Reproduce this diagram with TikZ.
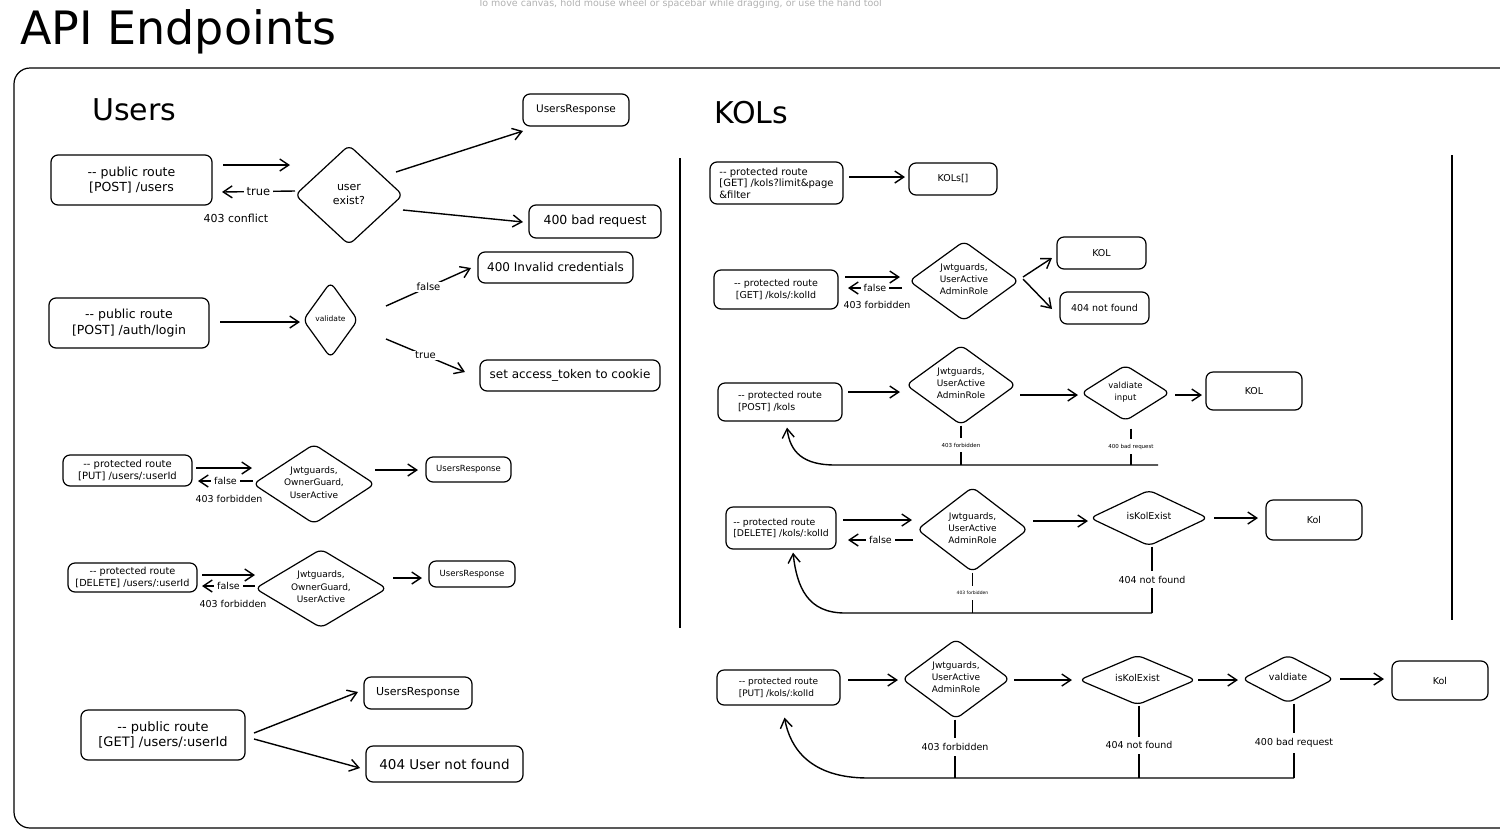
\documentclass[tikz,border=0pt]{standalone}
\usepackage{fontspec}
\setmainfont{DejaVu Sans}
\usetikzlibrary{shapes.geometric,arrows.meta,calc}
\newcommand\fsz[2]{\fontsize{#1}{#2}\selectfont}
\newcommand\dtext[1]{\raisebox{-0.36em}{\makebox[0pt]{\smash{\begin{tabular}{@{}c@{}}#1\end{tabular}}}}}
\tikzset{
  box/.style={draw, rounded corners=7pt, line width=1.2pt, inner sep=0pt, align=center},
  lbox/.style={draw, rounded corners=7pt, line width=1.2pt, inner sep=0pt, align=left},
  dia/.style={draw, diamond, rounded corners=6pt, line width=1.2pt, inner sep=0pt},
  arr/.style={line width=1.4pt, -{Straight Barb[length=9pt,width=12pt]}},
  ln/.style={line width=1.2pt},
  lbl/.style={fill=white, inner xsep=3pt, inner ysep=1pt},
  vlbl/.style={fill=white, inner xsep=2pt, inner ysep=5pt},
  tx/.style={inner sep=0pt},
}
\begin{document}
\begin{tikzpicture}[x=1pt,y=-1pt]
\useasboundingbox (0,0) rectangle (1500,831);
\clip (0,0) rectangle (1500,831);
\fill[white] (0,0) rectangle (1500,831);

% hint and title
\node[tx, anchor=base, font=\fsz{9.5}{11}, text=black!30] (hint) at (680,6) {To move canvas, hold mouse wheel or spacebar while dragging, or use the hand tool};
\node[tx, anchor=base west, font=\fsz{46}{52}] (title) at (20,44) {API Endpoints};

% frame and dividers
\draw[line width=1.2pt, rounded corners=16pt] (1530,68) -- (14,68) -- (14,828) -- (1530,828);
\draw[ln] (680,158) -- (680,628);
\draw[ln] (1452,155) -- (1452,620);

\node[tx, anchor=base west, font=\fsz{30}{34}] (users) at (92,120) {Users};
\node[tx, anchor=base west, font=\fsz{30}{34}] (kols) at (714,123) {KOLs};

% ---------------- Users: POST /users
\node[box, minimum width=161pt, minimum height=50pt, font=\fsz{12.5}{15.5}] (pu1) at (131.5,180) {-{}- public route\\{}[POST] /users};
\node[dia, minimum width=108pt, minimum height=100pt, font=\fsz{11}{14}] (d1) at (349,195) {\dtext{user\\exist?}};
\node[box, minimum width=106pt, minimum height=32pt, font=\fsz{10.5}{12}] (r1) at (576,110) {UsersResponse};
\node[box, minimum width=132pt, minimum height=33pt, font=\fsz{12.5}{14}] (r2) at (595,221.5) {400 bad request};
\draw[arr] ($(pu1.center)+(91.5,-15)$) -- ($(d1.center)+(-59,-30)$);
\draw[arr] ($(d1.center)+(-54,-4)$) -- ($(pu1.center)+(90.5,12)$) node[midway, lbl, font=\fsz{11.5}{13}] {true};
\node[tx, font=\fsz{11}{13}] (c403) at (236,218) {403 conflict};
\draw[arr] ($(d1.center)+(47,-23)$) -- ($(r1.center)+(-53,21)$);
\draw[arr] ($(d1.center)+(54,15)$) -- ($(r2.center)+(-72,0.5)$);

% ---------------- Users: POST /auth/login
\node[box, minimum width=160pt, minimum height=50pt, font=\fsz{12.5}{15.5}] (pl) at (129,323) {-{}- public route\\{}[POST] /auth/login};
\node[dia, minimum width=55pt, minimum height=76pt, font=\fsz{7.5}{9}] (dv) at (330.5,320) {\dtext{validate}};
\node[box, minimum width=155pt, minimum height=31pt, font=\fsz{12}{14}] (rIc) at (555.5,267.5) {400 Invalid credentials};
\node[box, minimum width=180pt, minimum height=31pt, font=\fsz{12}{14}] (rSet) at (570,375.5) {set access\_token to cookie};
\draw[arr] ($(pl.center)+(91,-1)$) -- ($(dv.center)+(-30.5,2)$);
\draw[arr] ($(dv.center)+(55.5,-14)$) -- ($(rIc.center)+(-84.5,0.5)$) node[midway, lbl, font=\fsz{10}{12}] {false};
\draw[arr] ($(dv.center)+(55.5,19)$) -- ($(rSet.center)+(-105,-3.5)$) node[midway, lbl, font=\fsz{10}{12}] {true};

% ---------------- Users: PUT
\node[box, minimum width=129pt, minimum height=31pt, font=\fsz{10}{12}] (pp) at (127.5,470.5) {-{}- protected route\\{}[PUT] /users/:userId};
\node[dia, minimum width=122pt, minimum height=80pt, font=\fsz{9}{12.5}] (dp) at (314,484) {\dtext{Jwtguards,\\OwnerGuard,\\UserActive}};
\node[box, minimum width=85pt, minimum height=25pt, font=\fsz{8.5}{10}] (rp) at (468.5,469.5) {UsersResponse};
\draw[arr] ($(pp.center)+(68.5,-2.5)$) -- ($(dp.center)+(-62,-16)$);
\draw[arr] ($(dp.center)+(-61,-3)$) -- ($(pp.center)+(70.5,10.5)$) node[midway, lbl, font=\fsz{9.5}{11}] {false};
\node[tx, font=\fsz{9.5}{11}] (f403a) at (229,499) {403 forbidden};
\draw[arr] ($(dp.center)+(61,-14)$) -- ($(rp.center)+(-50.5,0.5)$);

% ---------------- Users: DELETE
\node[box, minimum width=129pt, minimum height=29pt, font=\fsz{9.7}{11.5}] (pd) at (132.5,577.5) {-{}- protected route\\{}[DELETE] /users/:userId};
\node[dia, minimum width=132pt, minimum height=79pt, font=\fsz{9}{12.5}] (dd) at (321,588.5) {\dtext{Jwtguards,\\OwnerGuard,\\UserActive}};
\node[box, minimum width=86pt, minimum height=26pt, font=\fsz{8.5}{10}] (rd) at (472,574) {UsersResponse};
\draw[arr] ($(pd.center)+(69.5,-2.5)$) -- ($(dd.center)+(-66,-13.5)$);
\draw[arr] ($(dd.center)+(-66,-2.5)$) -- ($(pd.center)+(69.5,8.5)$) node[midway, lbl, font=\fsz{9.5}{11}] {false};
\node[tx, font=\fsz{9.5}{11}] (f403b) at (233,604) {403 forbidden};
\draw[arr] ($(dd.center)+(72,-10.5)$) -- ($(rd.center)+(-50,4)$);

% ---------------- Users: GET
\node[box, minimum width=164pt, minimum height=50pt, font=\fsz{13}{15.5}] (pg) at (163,735) {-{}- public route\\{}[GET] /users/:userId};
\node[box, minimum width=108pt, minimum height=32pt, font=\fsz{11}{13}] (rg1) at (418,693) {UsersResponse};
\node[box, minimum width=157pt, minimum height=36pt, font=\fsz{13.5}{15}] (rg2) at (444.5,764) {404 User not found};
\draw[arr] ($(pg.center)+(91,-2)$) -- ($(rg1.center)+(-60,-1)$);
\draw[arr] ($(pg.center)+(91,4)$) -- ($(rg2.center)+(-84.5,4)$);

% ---------------- KOLs: GET list
\node[lbox, minimum width=133pt, minimum height=42pt, font=\fsz{10}{11.5}] (kg) at (776.5,183) {-{}- protected route\\{}[GET] /kols?limit\&page\\\&filter};
\node[box, minimum width=88pt, minimum height=32pt, font=\fsz{9.5}{11}] (kr) at (953,179) {KOLs[]};
\draw[arr] ($(kg.center)+(72.5,-6)$) -- ($(kr.center)+(-48,-2)$);

% ---------------- KOLs: GET by id
\node[box, minimum width=124pt, minimum height=39pt, font=\fsz{9.5}{12}] (ki) at (776,289.5) {-{}- protected route\\{}[GET] /kols/:kolId};
\node[dia, minimum width=110pt, minimum height=80pt, font=\fsz{9}{12}] (di) at (964,281) {\dtext{Jwtguards,\\UserActive\\AdminRole}};
\node[box, minimum width=89pt, minimum height=32pt, font=\fsz{9.5}{11}] (kiR1) at (1101.5,253) {KOL};
\node[box, minimum width=89pt, minimum height=32pt, font=\fsz{9.5}{11}] (kiR2) at (1104.5,308) {404 not found};
\draw[arr] ($(ki.center)+(69,-12.5)$) -- ($(di.center)+(-64,-4)$);
\draw[arr] ($(di.center)+(-62,7)$) -- ($(ki.center)+(72,-1.5)$) node[midway, lbl, font=\fsz{9.5}{11}] {false};
\node[tx, font=\fsz{9.5}{11}] (f403c) at (877,305) {403 forbidden};
\draw[arr] ($(di.center)+(59,-4)$) -- ($(kiR1.center)+(-49.5,5)$);
\draw[arr] ($(di.center)+(59,-2)$) -- ($(kiR2.center)+(-52.5,1)$);

% ---------------- KOLs: POST
\node[lbox, minimum width=124pt, minimum height=38pt, font=\fsz{9.5}{12}] (kp) at (780,402) {-{}- protected route\\{}[POST] /kols};
\node[dia, minimum width=110pt, minimum height=80pt, font=\fsz{9}{12}] (dkp1) at (961,385) {\dtext{Jwtguards,\\UserActive\\AdminRole}};
\node[dia, minimum width=89pt, minimum height=56pt, font=\fsz{8.5}{12}] (dkp2) at (1125.5,393) {\dtext{valdiate\\input}};
\node[box, minimum width=96pt, minimum height=38pt, font=\fsz{9.5}{11}] (kpOut) at (1254,391) {KOL};
\draw[arr] ($(kp.center)+(68,-10)$) -- ($(dkp1.center)+(-61,7)$);
\draw[arr] ($(dkp1.center)+(59,10)$) -- ($(dkp2.center)+(-47.5,2)$);
\draw[arr] ($(dkp2.center)+(49.5,2)$) -- ($(kpOut.center)+(-52,4)$);
\coordinate (kpb) at (1158,465);
\coordinate (kpv2) at ($(dkp2.south)+(5.5,7)$);
\draw[ln] (dkp1.south) -- (dkp1.south |- kpb) node[midway, vlbl, font=\fsz{5.5}{6}] {403 forbidden};
\draw[ln] (kpv2) -- (kpv2 |- kpb) node[midway, vlbl, font=\fsz{5.5}{6}] {400 bad request};
\draw[arr] (kpb) -- (835,465) .. controls (803,465) and (790,452) .. ($(kp.south)+(7,6)$);

% ---------------- KOLs: DELETE
\node[lbox, minimum width=110pt, minimum height=42pt, font=\fsz{9.3}{11.5}] (kd) at (781,528) {-{}- protected route\\{}[DELETE] /kols/:kolId};
\node[dia, minimum width=111pt, minimum height=85pt, font=\fsz{9}{12}] (dkd1) at (972.5,529.5) {\dtext{Jwtguards,\\UserActive\\AdminRole}};
\node[dia, minimum width=118pt, minimum height=56pt, font=\fsz{9.5}{11}] (dkd2) at (1149,518) {\dtext{isKolExist}};
\node[box, minimum width=96pt, minimum height=40pt, font=\fsz{9.5}{11}] (kdOut) at (1314,520) {Kol};
\draw[arr] ($(kd.center)+(62,-8)$) -- ($(dkd1.center)+(-60.5,-9.5)$);
\draw[arr] ($(dkd1.center)+(-59.5,10.5)$) -- ($(kd.center)+(67,12)$) node[midway, lbl, font=\fsz{9.5}{11}] {false};
\draw[arr] ($(dkd1.center)+(60.5,-8.5)$) -- ($(dkd2.center)+(-61,3)$);
\draw[arr] ($(dkd2.center)+(65,0)$) -- ($(kdOut.center)+(-56,-2)$);
\coordinate (kdb) at (1152,613);
\coordinate (kdv2) at ($(dkd2.south)+(3,0)$);
\draw[ln] (dkd1.south) -- (dkd1.south |- kdb) node[midway, vlbl, font=\fsz{4.5}{5}] {403 forbidden};
\draw[ln] (kdv2) -- (kdv2 |- kdb) node[midway, vlbl, font=\fsz{9.5}{11}] {404 not found};
\draw[arr] (kdb) -- (845,613) .. controls (808,613) and (797,588) .. ($(kd.south)+(12,3)$);

% ---------------- KOLs: PUT
\node[lbox, minimum width=123pt, minimum height=35pt, font=\fsz{9}{11.5}] (kpu) at (778.5,687.5) {-{}- protected route\\{}[PUT] /kols/:kolId};
\node[dia, minimum width=108pt, minimum height=80pt, font=\fsz{9}{12}] (ku1) at (956,679) {\dtext{Jwtguards,\\UserActive\\AdminRole}};
\node[dia, minimum width=117pt, minimum height=50pt, font=\fsz{9.5}{11}] (ku2) at (1137.5,680) {\dtext{isKolExist}};
\node[dia, minimum width=92pt, minimum height=48pt, font=\fsz{9.5}{11}] (ku3) at (1288,679) {\dtext{valdiate}};
\node[box, minimum width=96pt, minimum height=39pt, font=\fsz{9.5}{11}] (kuOut) at (1440,680.5) {Kol};
\draw[arr] ($(kpu.center)+(69.5,-7.5)$) -- ($(ku1.center)+(-58,1)$);
\draw[arr] ($(ku1.center)+(58,1)$) -- ($(ku2.center)+(-65.5,0)$);
\draw[arr] ($(ku2.center)+(60.5,0)$) -- ($(ku3.center)+(-50,1)$);
\draw[arr] ($(ku3.center)+(52,0)$) -- ($(kuOut.center)+(-56,-1.5)$);
\coordinate (kub) at (1294,778);
\coordinate (kuv1) at ($(ku1.south)+(-1,0)$);
\coordinate (kuv2) at ($(ku2.south)+(1.5,0)$);
\coordinate (kuv3) at ($(ku3.south)+(6,0)$);
\draw[ln] (kuv1) -- (kuv1 |- kub) node[pos=0.47, vlbl, font=\fsz{9.5}{11}] {403 forbidden};
\draw[ln] (kuv2) -- (kuv2 |- kub) node[pos=0.55, vlbl, font=\fsz{9.5}{11}] {404 not found};
\draw[ln] (kuv3) -- (kuv3 |- kub) node[pos=0.53, vlbl, font=\fsz{9.5}{11}] {400 bad request};
\draw[arr] (kub) -- (868,778) .. controls (810,778) and (790,748) .. ($(kpu.south)+(6,12)$);

\end{tikzpicture}
\end{document}
